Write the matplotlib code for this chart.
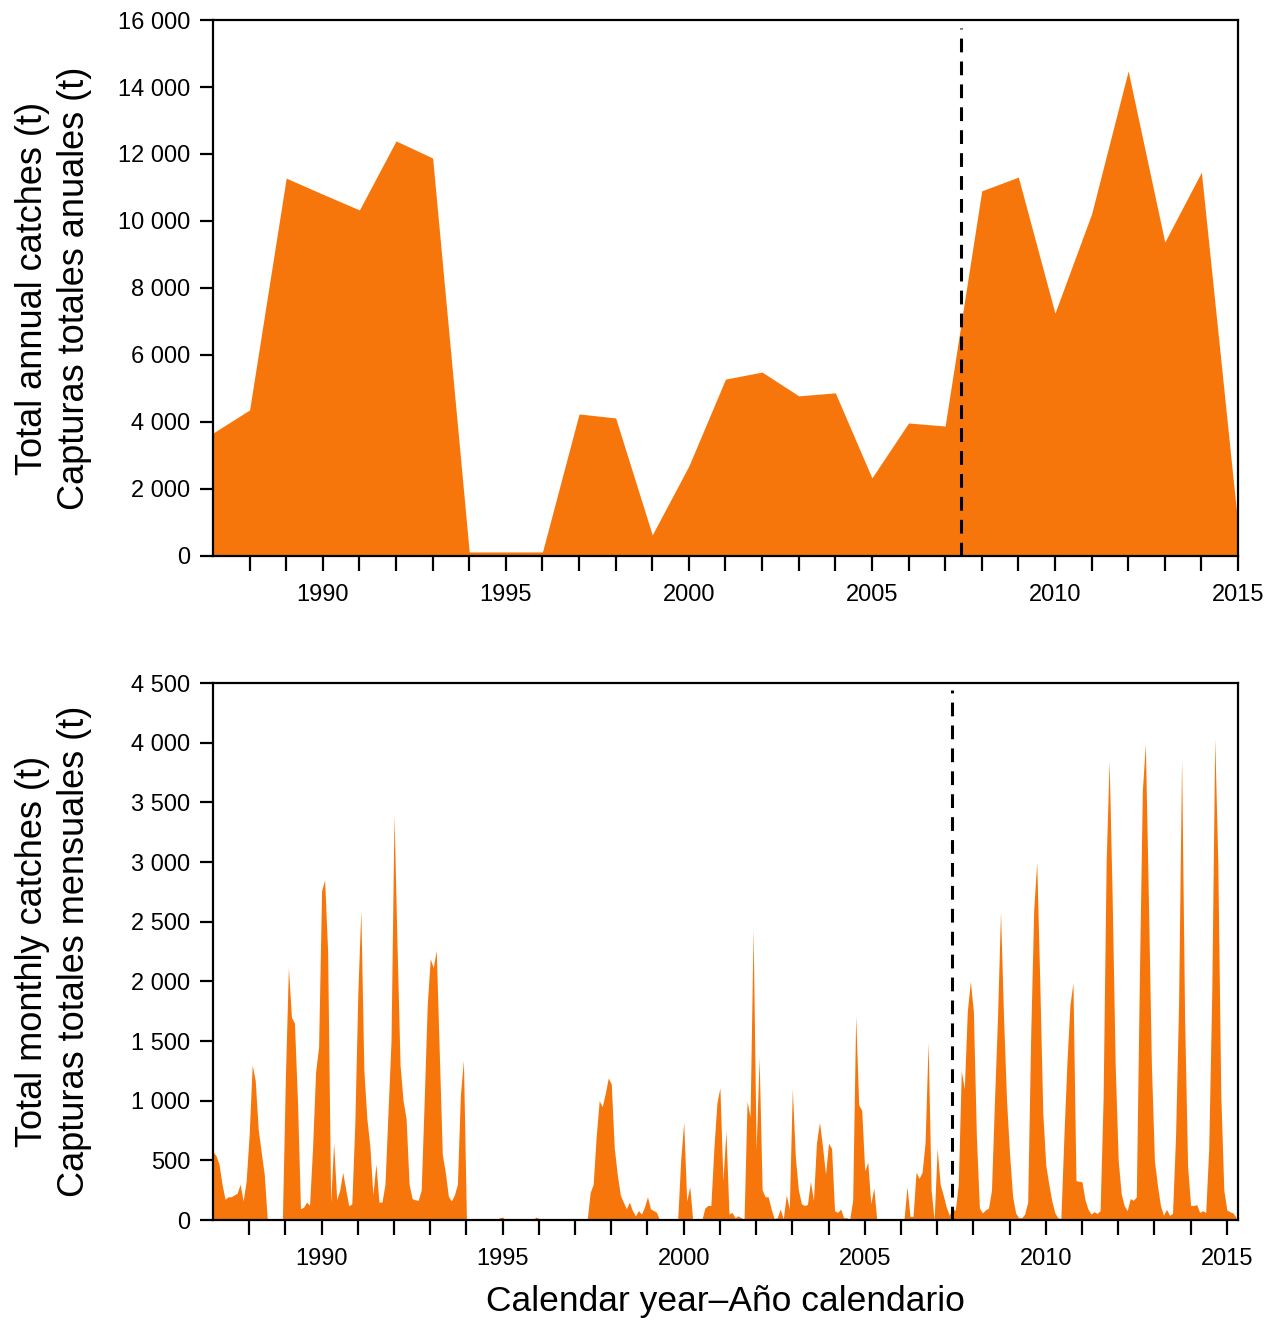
import numpy as np
import matplotlib
matplotlib.use("Agg")
import matplotlib.pyplot as plt
from matplotlib.ticker import FuncFormatter, MultipleLocator

plt.rcParams['font.family'] = ['Liberation Sans', 'DejaVu Sans']

# ---------------------------------------------------------------------------
# Data
# ---------------------------------------------------------------------------
years = list(range(1987, 2016))
annual_t = [3670, 4360, 11280, 10800, 10330, 12390, 11880, 120, 120, 120,
            4240, 4120, 630, 2690, 5280, 5490, 4780, 4870, 2330, 3970,
            3880, 10900, 11310, 7250, 10210, 14480, 9370, 11460, 900]

# monthly catches, Jan 1987 onwards (one row per calendar year)
monthly_t = [
    573, 540, 470, 300, 175, 195, 195, 210, 225, 300, 160, 330,          # 1987
    720, 1300, 1170, 760, 567, 380, 0, 0, 0, 0, 0, 0,                     # 1988
    1200, 2115, 1700, 1650, 1000, 95, 107, 150, 125, 600, 1240, 1450,     # 1989
    2760, 2850, 2250, 150, 645, 170, 250, 400, 255, 120, 135, 800,        # 1990
    1900, 2595, 1257, 850, 617, 210, 470, 150, 150, 300, 900, 1500,       # 1991
    3395, 2300, 1300, 1000, 850, 300, 180, 170, 165, 250, 1000, 1800,     # 1992
    2190, 2115, 2260, 1400, 550, 400, 200, 160, 210, 300, 1050, 1340,     # 1993
    0, 0, 0, 0, 0, 0, 0, 0, 0, 0, 0, 20,                                  # 1994
    25, 0, 0, 0, 0, 0, 0, 0, 0, 0, 0, 25,                                 # 1995
    15, 0, 0, 0, 0, 0, 0, 0, 0, 0, 0, 0,                                  # 1996
    0, 0, 0, 0, 0, 230, 300, 700, 1000, 950, 1060, 1190,                  # 1997
    1140, 600, 380, 210, 150, 95, 150, 80, 35, 80, 50, 110,               # 1998
    195, 93, 80, 64, 0, 0, 0, 0, 0, 0, 0, 500,                            # 1999
    820, 160, 282, 0, 0, 0, 0, 100, 122, 122, 600, 980,                   # 2000
    1110, 330, 748, 50, 64, 20, 35, 20, 6, 995, 864, 2435,                # 2001
    590, 1360, 253, 195, 195, 93, 12, 20, 93, 10, 210, 93,                # 2002
    1097, 530, 253, 137, 122, 130, 325, 165, 645, 820, 617, 384,          # 2003
    645, 600, 78, 64, 93, 20, 20, 6, 165, 1710, 965, 920,                 # 2004
    413, 485, 137, 268, 0, 0, 0, 0, 0, 0, 0, 0,                           # 2005
    0, 0, 280, 30, 30, 400, 350, 400, 650, 1490, 250, 0,                  # 2006
    600, 300, 210, 110, 40, 100, 80, 300, 1250, 1100, 1750, 2000,         # 2007
    1750, 700, 100, 60, 85, 100, 250, 1000, 1700, 2580, 1700, 1000,       # 2008
    550, 200, 60, 20, 20, 50, 150, 1550, 2600, 3000, 2000, 900,           # 2009
    460, 300, 160, 60, 20, 12, 700, 1315, 1800, 1990, 330, 325,           # 2010
    320, 170, 90, 50, 70, 55, 78, 1024, 3000, 3850, 2700, 1300,           # 2011
    500, 220, 120, 80, 180, 165, 195, 2000, 3600, 3990, 2700, 1300,       # 2012
    500, 290, 122, 40, 90, 40, 55, 700, 1800, 3870, 1700, 450,            # 2013
    122, 122, 130, 64, 78, 64, 600, 1900, 4035, 3000, 1050, 250,          # 2014
    85, 70, 60, 25,                                                       # 2015
]

regime_change = 2007.42

fill_col = '#f7760b'

# ---------------------------------------------------------------------------
month_x = 1987 + np.arange(len(monthly_t)) / 12.0


def thousands(v, pos):
    return f"{int(round(v)):,}".replace(",", " ")


def style_axes(ax, xlim):
    ax.set_xlim(*xlim)
    ax.tick_params(axis='x', which='major', direction='out', length=11, width=1.6,
                   pad=9, labelsize=17)
    ax.tick_params(axis='y', direction='out', length=9.5, width=1.6, pad=7, labelsize=17)
    ax.yaxis.set_major_formatter(FuncFormatter(thousands))
    yrs = np.arange(1988, 2016)
    ax.set_xticks(yrs)
    ax.set_xticklabels([str(y) if y % 5 == 0 else '' for y in yrs])
    for s in ax.spines.values():
        s.set_linewidth(1.6)


fig = plt.figure(figsize=(12.7, 13.25), dpi=100)

# top panel: annual catches
ax1 = fig.add_axes([0.1677, 0.5804, 0.8071, 0.4045])
ax1.fill_between(years, 0, annual_t, color=fill_col, linewidth=0)
ax1.set_ylim(0, 16000)
ax1.yaxis.set_major_locator(MultipleLocator(2000))
style_axes(ax1, (1987, 2015))
ax1.axvline(regime_change, ymin=0, ymax=0.985, color='black', lw=2.2, ls=(0, (4.5, 3)))
ax1.set_ylabel("Total annual catches (t)\nCapturas totales anuales (t)",
               fontsize=26, linespacing=1.25)
ax1.yaxis.set_label_coords(-0.118, 0.5)

# bottom panel: monthly catches
ax2 = fig.add_axes([0.1677, 0.0792, 0.8071, 0.4053])
ax2.fill_between(month_x, 0, monthly_t, color=fill_col, linewidth=0)
ax2.set_ylim(0, 4500)
ax2.yaxis.set_major_locator(MultipleLocator(500))
style_axes(ax2, (1987, 1987 + 339.7 / 12))
ax2.axvline(regime_change, ymin=0, ymax=0.987, color='black', lw=2.2, ls=(0, (4.5, 3)))
ax2.set_ylabel("Total monthly catches (t)\nCapturas totales mensuales (t)",
               fontsize=26, linespacing=1.25)
ax2.yaxis.set_label_coords(-0.118, 0.5)
ax2.set_xlabel("Calendar year\u2013A\u00f1o calendario", fontsize=25.5, labelpad=11)

fig.savefig("out.png", dpi=100)
